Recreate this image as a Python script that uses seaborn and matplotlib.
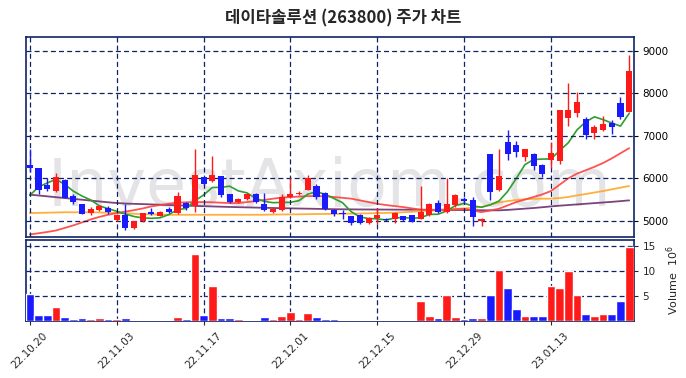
import numpy as np
import pandas as pd
import matplotlib
matplotlib.use('Agg')
import matplotlib.pyplot as plt
import seaborn as sns

title = '데이타솔루션 (263800) 주가 차트'
tick_index = [0, 10, 20, 30, 40, 50, 60]
tick_labels = ['22.10.20', '22.11.03', '22.11.17', '22.12.01', '22.12.15', '22.12.29', '23.01.13']

opens = [6314, 6243, 5835, 5700, 5955, 5575, 5385, 5180, 5243, 5298,
         5007, 5125, 4825, 4983, 5203, 5108, 5267, 5189, 5425, 5345,
         6024, 5936, 6047, 5622, 5440, 5520, 5640, 5400, 5203, 5243,
         5558, 5622, 5733, 5811, 5660, 5260, 5180, 5100, 5142, 4943,
         5061, 5047, 5047, 5100, 5125, 5047, 5125, 5416, 5203, 5362,
         5520, 5480, 4983, 6567, 5733, 6844, 6780, 6504, 6584, 6307,
         6442, 6410, 7411, 7530, 7388, 7057, 7135, 7293, 7766, 7567]
highs = [6700, 6250, 6000, 6135, 5980, 5640, 5390, 5320, 5362, 5340,
         5165, 5385, 4983, 5180, 5298, 5240, 5330, 5676, 5440, 6686,
         6030, 6520, 6060, 5630, 5540, 5650, 5660, 5660, 5300, 5620,
         6000, 5700, 6087, 5870, 5670, 5270, 5260, 5120, 5150, 5080,
         5300, 5060, 5200, 5110, 5130, 5811, 5420, 5480, 6000, 5640,
         5560, 5550, 5060, 6567, 6680, 7150, 6880, 6700, 6600, 6340,
         6856, 7620, 8240, 8040, 7450, 7250, 7463, 7371, 7922, 8907]
lows = [6150, 5640, 5700, 5670, 5540, 5400, 5150, 5125, 5220, 5170,
        4990, 4787, 4810, 4975, 5125, 5100, 5180, 5165, 5250, 5203,
        5835, 5912, 5570, 5420, 5420, 5500, 5420, 5230, 5180, 5220,
        5540, 5600, 5720, 5520, 5250, 5100, 5047, 4900, 4930, 4930,
        4930, 4990, 4950, 4990, 4960, 5030, 5100, 5180, 5190, 5330,
        5420, 4880, 4865, 5480, 5700, 6425, 6504, 6410, 6190, 6040,
        6253, 6330, 7230, 7435, 6936, 6936, 7118, 7040, 7388, 7567]
closes = [6243, 5735, 5740, 6030, 5545, 5440, 5165, 5267, 5345, 5203,
          5142, 4825, 4983, 5180, 5156, 5203, 5203, 5575, 5307, 6070,
          5875, 6087, 5598, 5440, 5520, 5640, 5440, 5243, 5283, 5558,
          5640, 5652, 6000, 5558, 5267, 5150, 5150, 4943, 4943, 5070,
          5125, 5007, 5180, 5007, 4967, 5203, 5385, 5203, 5400, 5598,
          5463, 5085, 5047, 5676, 6047, 6584, 6622, 6680, 6284, 6095,
          6600, 7608, 7608, 7800, 7030, 7198, 7274, 7213, 7435, 8527]
volumes = [5.4, 1.27, 1.27, 2.87, 0.87, 0.47, 0.67, 0.47, 0.67, 0.47,
           0.47, 0.67, 0.27, 0.27, 0.27, 0.27, 0.27, 0.87, 0.47, 13.47,
           1.27, 7.07, 0.67, 0.67, 0.47, 0.27, 0.27, 0.87, 0.47, 1.07,
           1.87, 0.47, 1.67, 0.87, 0.47, 0.47, 0.27, 0.27, 0.27, 0.27,
           0.27, 0.27, 0.27, 0.27, 0.27, 4.07, 1.07, 0.67, 5.27, 0.87,
           0.47, 0.67, 0.67, 5.27, 10.27, 6.67, 2.47, 1.07, 1.07, 1.07,
           7.07, 6.67, 10.0, 5.27, 1.47, 1.07, 1.47, 1.47, 4.07, 14.87]
ma5_head = [5600, 5795, 5890, 5976]
ma20 = [4676, 4705, 4735, 4770, 4830, 4890, 4960, 5030, 5090, 5140,
        5180, 5215, 5250, 5290, 5338, 5370, 5400, 5425, 5435, 5440,
        5440, 5435, 5425, 5418, 5416, 5440, 5463, 5490, 5520, 5545,
        5558, 5570, 5580, 5582, 5575, 5560, 5540, 5520, 5480, 5440,
        5400, 5370, 5345, 5322, 5290, 5260, 5250, 5243, 5255, 5270,
        5283, 5240, 5203, 5240, 5283, 5360, 5440, 5500, 5560, 5620,
        5700, 5850, 6000, 6110, 6190, 6270, 6360, 6470, 6590, 6710]
ma60 = [5180, 5185, 5190, 5195, 5200, 5200, 5200, 5200, 5195, 5190,
        5185, 5175, 5165, 5155, 5150, 5145, 5140, 5140, 5140, 5140,
        5140, 5140, 5140, 5140, 5140, 5140, 5140, 5142, 5145, 5148,
        5150, 5152, 5155, 5158, 5160, 5162, 5165, 5168, 5170, 5175,
        5180, 5185, 5190, 5200, 5210, 5225, 5240, 5260, 5270, 5280,
        5290, 5305, 5322, 5380, 5430, 5463, 5490, 5505, 5515, 5520,
        5520, 5535, 5560, 5598, 5630, 5665, 5700, 5740, 5780, 5818]
ma120 = [5615, 5595, 5575, 5555, 5535, 5515, 5495, 5475, 5455, 5435,
         5418, 5405, 5398, 5392, 5385, 5378, 5370, 5363, 5356, 5349,
         5343, 5337, 5331, 5325, 5320, 5315, 5310, 5305, 5300, 5296,
         5292, 5288, 5284, 5280, 5276, 5272, 5270, 5268, 5266, 5265,
         5264, 5263, 5262, 5261, 5260, 5260, 5260, 5258, 5256, 5254,
         5252, 5250, 5247, 5245, 5245, 5255, 5270, 5285, 5300, 5318,
         5338, 5355, 5370, 5385, 5400, 5415, 5430, 5445, 5462, 5480]

RED = '#ff1a1a'
BLUE = '#1a1aff'
NAVY = '#0f2266'

sns.set_style('white')
plt.rcParams['font.family'] = ['DejaVu Sans']

n = len(closes)
idx = np.arange(n)
df = pd.DataFrame({'idx': idx, 'open': opens, 'high': highs, 'low': lows,
                   'close': closes, 'volume': volumes,
                   'ma20': ma20, 'ma60': ma60, 'ma120': ma120})
ma5 = df['close'].rolling(5).mean()
ma5.iloc[:4] = ma5_head
df['ma5'] = ma5
df['dir'] = np.where(df['close'] >= df['open'], 'up', 'down')

fig = plt.figure(figsize=(6.86, 3.78), dpi=100)
W, H = 686.0, 378.0
left, right = 25.5, 633.5
ax = fig.add_axes([left / W, 1 - 237.5 / H, (right - left) / W, (237.5 - 36.7) / H])
axv = fig.add_axes([left / W, 1 - 321.3 / H, (right - left) / W, (321.3 - 239.5) / H])

# watermark
ax.text(0.5, 0.245, 'InvestAxiom.com', transform=ax.transAxes, ha='center', va='center',
        fontsize=47, color='#e4e4e6', zorder=0.5)

# moving averages
sns.lineplot(data=df, x='idx', y='ma120', ax=ax, color='#6e2f6e', lw=1.3, alpha=0.9, zorder=2)
sns.lineplot(data=df, x='idx', y='ma60', ax=ax, color='#ffa726', lw=1.3, alpha=0.9, zorder=2)
sns.lineplot(data=df, x='idx', y='ma20', ax=ax, color='#ff4040', lw=1.3, alpha=0.9, zorder=2)
sns.lineplot(data=df, x='idx', y='ma5', ax=ax, color='#2e9e2e', lw=1.2, zorder=2)

# candles
colors = np.where(df['dir'] == 'up', RED, BLUE)
ax.vlines(idx, df['low'], df['high'], colors=colors, lw=1.0, zorder=3)
body_bottom = np.minimum(df['open'], df['close'])
body_h = np.maximum(np.abs(df['close'] - df['open']), 25)
ax.bar(idx, body_h, bottom=body_bottom, width=0.7, color=colors, zorder=4, linewidth=0)

# volume
sns.barplot(data=df, x='idx', y='volume', hue='dir', palette={'up': RED, 'down': BLUE},
            native_scale=True, width=1.0, dodge=False, legend=False, errorbar=None,
            saturation=1, ax=axv, zorder=3)

for a in (ax, axv):
    a.set_xlim(-0.5, n - 0.5)
    a.set_xticks(tick_index)
    a.grid(True, color=NAVY, linestyle=(0, (4, 2.5)), linewidth=0.9)
    a.set_axisbelow(False)
    for s in a.spines.values():
        s.set_color(NAVY)
        s.set_linewidth(1.2)
    a.yaxis.tick_right()
    a.set_xlabel('')
    a.set_ylabel('')
    for gl in a.get_xgridlines() + a.get_ygridlines():
        gl.set_zorder(1)

ax.set_ylim(4605, 9337)
ax.set_yticks([5000, 6000, 7000, 8000, 9000])
ax.tick_params(axis='x', labelbottom=False, length=0)
ax.tick_params(axis='y', labelsize=7.5, length=3, colors='black')

axv.set_ylim(0, 16.36)
axv.set_yticks([5, 10, 15])
axv.set_xticklabels(tick_labels, rotation=45, fontsize=7.5)
axv.tick_params(axis='x', length=3, bottom=True, direction='out')
axv.tick_params(axis='y', labelsize=7.5, length=3, right=True)
axv.yaxis.set_label_position('right')
axv.set_ylabel(r'Volume  $10^6$', fontsize=8, labelpad=6)

fig.text(0.5, 1 - 18 / H, title, ha='center', va='center', fontsize=12, fontweight='bold',
         family=['Noto Sans CJK KR', 'DejaVu Sans'])

fig.savefig('out.png', dpi=100)
